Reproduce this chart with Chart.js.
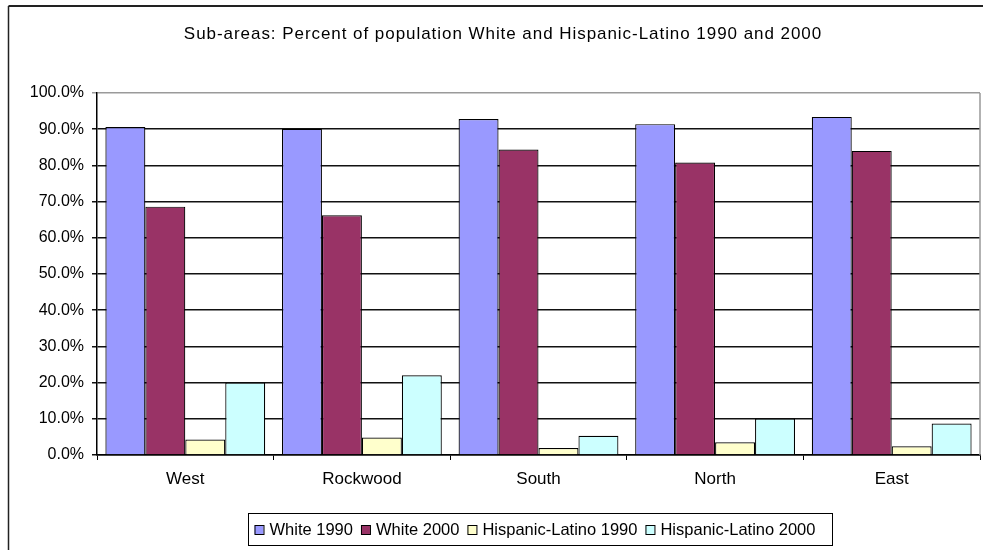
<!DOCTYPE html>
<html>
<head>
<meta charset="utf-8">
<script src="https://cdn.jsdelivr.net/npm/chart.js@4.4.0/dist/chart.umd.min.js"></script>
<style>
html,body{margin:0;padding:0;background:#fff;}
#wrap{width:983px;height:550px;position:relative;}
</style>
</head>
<body>
<div id="wrap"><canvas id="c" width="983" height="550"></canvas></div>
<script>
const titleText = "Sub-areas: Percent of population White and Hispanic-Latino 1990 and 2000";
const categories = ["West", "Rockwood", "South", "North", "East"];
const seriesNames = ["White 1990", "White 2000", "Hispanic-Latino 1990", "Hispanic-Latino 2000"];
const white1990 = [90.6, 90.1, 92.8, 91.4, 93.4];
const white2000 = [68.6, 66.2, 84.4, 80.8, 84.0];
const hisp1990 = [4.3, 4.8, 1.9, 3.5, 2.4];
const hisp2000 = [20.0, 22.0, 5.3, 10.1, 8.7];
const colors = ["#9999FF", "#993366", "#FFFFCC", "#CCFFFF"];
const yMin = 0, yMax = 100, yStep = 10;

const FONT = "'Liberation Sans', Arial, sans-serif";

const decor = {
  id: 'decor',
  beforeDraw(chart) {
    const ctx = chart.ctx;
    ctx.save();
    ctx.fillStyle = '#fff';
    ctx.fillRect(0, 0, chart.width, chart.height);
    ctx.restore();
  },
  afterDraw(chart) {
    const ctx = chart.ctx;
    const a = chart.chartArea;
    ctx.save();
    // outer frame
    ctx.strokeStyle = '#222';
    ctx.lineWidth = 2;
    ctx.beginPath();
    ctx.moveTo(983, 6);
    ctx.lineTo(8.5, 6);
    ctx.stroke();
    ctx.lineWidth = 1.5;
    ctx.beginPath();
    ctx.moveTo(8.5, 6);
    ctx.lineTo(8.5, 550);
    ctx.stroke();
    // plot right border
    ctx.strokeStyle = '#999';
    ctx.lineWidth = 1.5;
    ctx.beginPath();
    ctx.moveTo(a.right, a.top);
    ctx.lineTo(a.right, a.bottom);
    ctx.stroke();
    // title
    ctx.fillStyle = '#000';
    ctx.font = "17px " + FONT;
    ctx.letterSpacing = '0.95px';
    ctx.textAlign = 'center';
    ctx.textBaseline = 'middle';
    ctx.fillText(titleText, 503, 34);
    ctx.letterSpacing = '0px';
    // legend
    ctx.font = "16.5px " + FONT;
    ctx.textAlign = 'left';
    const lx0 = 248.5, ly0 = 513.5, lw = 584, lh = 32;
    ctx.strokeStyle = '#000';
    ctx.lineWidth = 1;
    ctx.strokeRect(lx0, ly0, lw, lh);
    let x = lx0 + 6;
    const cy = ly0 + lh / 2;
    chart.data.datasets.forEach((ds) => {
      ctx.fillStyle = ds.backgroundColor;
      ctx.fillRect(x, cy - 4.5, 9, 9);
      ctx.strokeStyle = '#000';
      ctx.strokeRect(x + 0.5, cy - 4.5 + 0.5, 9, 9);
      x += 15;
      ctx.fillStyle = '#000';
      ctx.fillText(ds.label, x, cy + 1);
      x += ctx.measureText(ds.label).width + 8;
    });
    ctx.restore();
  }
};

const datasets = [white1990, white2000, hisp1990, hisp2000].map((d, i) => ({
  label: seriesNames[i],
  data: d,
  backgroundColor: colors[i],
  borderColor: '#000',
  borderWidth: 1.2,
  categoryPercentage: 0.905,
  barPercentage: 1.0
}));

new Chart(document.getElementById('c'), {
  type: 'bar',
  data: { labels: categories, datasets },
  options: {
    responsive: false,
    animation: false,
    devicePixelRatio: 1,
    layout: { padding: { top: 93, right: 3, left: 0, bottom: 0 } },
    plugins: { legend: { display: false }, title: { display: false }, tooltip: { enabled: false } },
    scales: {
      x: {
        afterFit(s) { s.height = 95; },
        grid: { offset: true, drawOnChartArea: false, drawTicks: true, tickLength: 5, color: '#000' },
        border: { display: true, color: '#000', width: 1.5 },
        ticks: { color: '#000', font: { family: FONT, size: 17 }, padding: 9, maxRotation: 0 }
      },
      y: {
        min: yMin, max: yMax,
        afterFit(s) { s.width = 97; },
        grid: {
          color: (c) => (c.tick && c.tick.value === 100 ? '#9a9a9a' : '#111'),
          lineWidth: 1.5,
          tickLength: 5,
          drawTicks: true
        },
        border: { display: true, color: '#000', width: 1.5 },
        ticks: {
          stepSize: yStep,
          color: '#000',
          padding: 8,
          font: { family: FONT, size: 16 },
          callback: (v) => v.toFixed(1) + '%'
        }
      }
    }
  },
  plugins: [decor]
});
</script>
</body>
</html>
